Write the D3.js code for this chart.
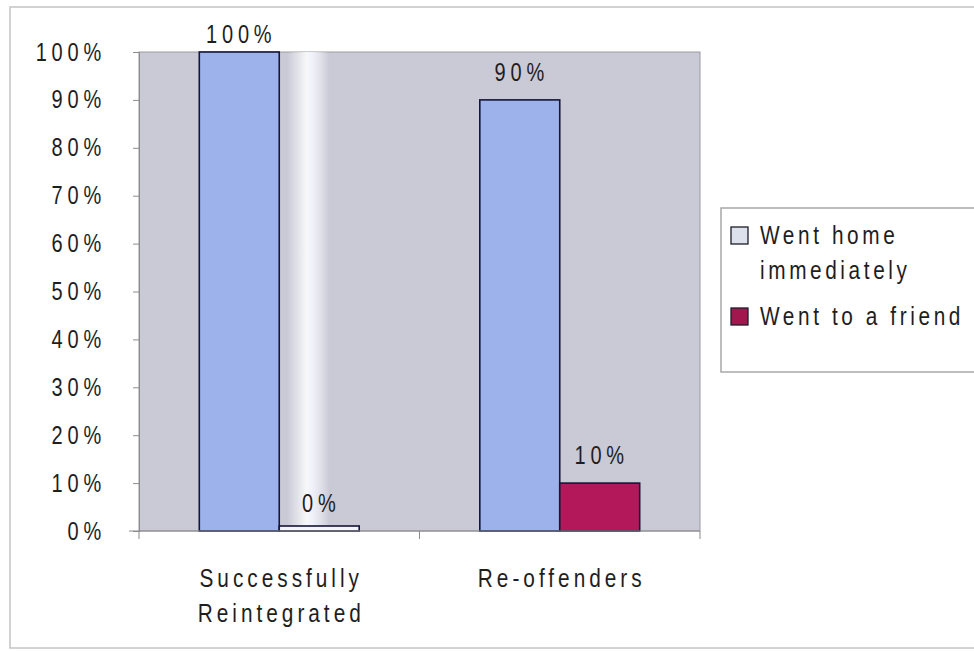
<!DOCTYPE html>
<html>
<head>
<meta charset="utf-8">
<script src="https://cdn.jsdelivr.net/npm/d3@7/dist/d3.min.js"></script>
<style>
  html, body { margin: 0; padding: 0; background: #ffffff; }
  svg { display: block; }
  text { font-family: "Liberation Sans", Arial, sans-serif; fill: #1e1e1e; }
  /* condensed lettering: glyphs squeezed horizontally around their anchor */
  .nar-mid { transform-box: fill-box; transform-origin: center; transform: scaleX(0.8); }
  .nar-end { transform-box: fill-box; transform-origin: right center; transform: scaleX(0.8); }
  .nar-start { transform-box: fill-box; transform-origin: left center; transform: scaleX(0.8); }
</style>
</head>
<body>
<svg id="chart" width="974" height="651"></svg>
<script>
// Where participants went on release, by outcome group
const categories = ["Successfully Reintegrated", "Re-offenders"];
const categoryLines = [["Successfully", "Reintegrated"], ["Re-offenders"]];
const seriesNames = ["Went home immediately", "Went to a friend"];
const legendLines = [["Went home", "immediately"], ["Went to a friend"]];
const wentHome = [100, 90];
const wentToFriend = [0, 10];
const yTicks = [0, 10, 20, 30, 40, 50, 60, 70, 80, 90, 100];

const seriesValues = [wentHome, wentToFriend];
const seriesColors = ["#9db2ea", "#b3185b"];
const legendSwatch = ["#dde1ec", "#a3174f"];

const svg = d3.select("#chart");
const plot = { left: 139, right: 700, top: 52, bottom: 531 };

// Chart area frame
svg.append("rect")
  .attr("x", 10).attr("y", 7)
  .attr("width", 1000).attr("height", 641)
  .attr("fill", "none").attr("stroke", "#c4c4c4").attr("stroke-width", 1.5);

const x0 = d3.scaleBand()
  .domain(categories)
  .range([plot.left, plot.right])
  .paddingInner(0.43)
  .paddingOuter(0.215);

const x1 = d3.scaleBand()
  .domain(seriesNames)
  .range([0, x0.bandwidth()]);

const y = d3.scaleLinear().domain([0, 100]).range([plot.bottom, plot.top]);

// Plot area
svg.append("rect")
  .attr("x", plot.left).attr("y", plot.top)
  .attr("width", plot.right - plot.left).attr("height", plot.bottom - plot.top)
  .attr("fill", "#c9cad6").attr("stroke", "#9a9aa4").attr("stroke-width", 1);

// Light streak across the first group
const defs = svg.append("defs");
const grad = defs.append("linearGradient").attr("id", "streak").attr("x1", "0").attr("x2", "1").attr("y1", "0").attr("y2", "0");
grad.append("stop").attr("offset", "0").attr("stop-color", "#ffffff").attr("stop-opacity", 0);
grad.append("stop").attr("offset", "0.45").attr("stop-color", "#ffffff").attr("stop-opacity", 0.85);
grad.append("stop").attr("offset", "0.6").attr("stop-color", "#f4f6ff").attr("stop-opacity", 0.9);
grad.append("stop").attr("offset", "1").attr("stop-color", "#ffffff").attr("stop-opacity", 0);
svg.append("rect")
  .attr("x", x0(categories[0]) + x1(seriesNames[1]) + 8)
  .attr("y", plot.top)
  .attr("width", 42)
  .attr("height", plot.bottom - plot.top)
  .attr("fill", "url(#streak)");

// Bars
const barData = [];
categories.forEach((c, i) => {
  seriesNames.forEach((s, j) => {
    barData.push({ cat: c, series: s, si: j, value: seriesValues[j][i] });
  });
});

const minVisible = 5;
svg.append("g").selectAll("rect")
  .data(barData)
  .join("rect")
  .attr("x", d => x0(d.cat) + x1(d.series))
  .attr("width", x1.bandwidth())
  .attr("y", d => Math.min(y(d.value), plot.bottom - minVisible))
  .attr("height", d => Math.max(plot.bottom - y(d.value), minVisible))
  .attr("fill", d => d.value === 0 ? "#f4f4fa" : seriesColors[d.si])
  .attr("stroke", "#15163a")
  .attr("stroke-width", 1.6);

// Value labels
svg.append("g").selectAll("text")
  .data(barData)
  .join("text")
  .attr("class", "nar-mid")
  .attr("x", d => x0(d.cat) + x1(d.series) + x1.bandwidth() / 2 + 2)
  .attr("y", d => Math.max(y(d.value) - 28, 34))
  .attr("dy", "0.35em")
  .attr("text-anchor", "middle")
  .attr("font-size", 25)
  .attr("letter-spacing", 6)
  .text(d => d.value + "%");

// Y axis
const yAxis = d3.axisLeft(y)
  .tickValues(yTicks)
  .tickFormat(d => d + "%")
  .tickSize(6)
  .tickPadding(27);
const yg = svg.append("g").attr("transform", `translate(${plot.left},0)`).call(yAxis);
yg.select(".domain").attr("stroke", "#8a8a8a");
yg.selectAll(".tick line").attr("stroke", "#8a8a8a");
yg.selectAll(".tick text")
  .attr("class", "nar-end")
  .attr("font-size", 25)
  .attr("letter-spacing", 6)
  .attr("fill", "#1e1e1e")
  .attr("font-family", "'Liberation Sans', Arial, sans-serif");

// X axis baseline with category dividers
svg.append("line")
  .attr("x1", plot.left - 10).attr("x2", plot.right)
  .attr("y1", plot.bottom).attr("y2", plot.bottom)
  .attr("stroke", "#8a8a8a").attr("stroke-width", 1.2);
const dividers = [plot.left, (x0(categories[0]) + x0.bandwidth() + x0(categories[1])) / 2, plot.right];
svg.append("g").selectAll("line")
  .data(dividers)
  .join("line")
  .attr("x1", d => d).attr("x2", d => d)
  .attr("y1", plot.bottom).attr("y2", plot.bottom + 8)
  .attr("stroke", "#8a8a8a");

// Category labels, one text per line
const catLineData = [];
categories.forEach((c, i) => categoryLines[i].forEach((t, k) => catLineData.push({ cat: c, k, t })));
svg.append("g").selectAll("text")
  .data(catLineData)
  .join("text")
  .attr("class", "nar-mid")
  .attr("x", d => x0(d.cat) + x0.bandwidth() / 2 + 2)
  .attr("y", d => 587 + d.k * 35)
  .attr("text-anchor", "middle")
  .attr("font-size", 26)
  .attr("letter-spacing", 5)
  .text(d => d.t);

// Legend
const legend = svg.append("g");
legend.append("rect")
  .attr("x", 721).attr("y", 208)
  .attr("width", 300).attr("height", 164)
  .attr("fill", "#ffffff").attr("stroke", "#a8a8a8").attr("stroke-width", 1.5);
const items = legend.selectAll("g.item")
  .data(seriesNames)
  .join("g")
  .attr("class", "item")
  .attr("transform", (d, i) => `translate(731, ${i === 0 ? 235 : 316})`);
items.append("rect")
  .attr("x", 0).attr("y", -8)
  .attr("width", 17).attr("height", 17)
  .attr("fill", (d, i) => legendSwatch[i])
  .attr("stroke", "#1c1c2a").attr("stroke-width", 1.3);
const legendLineData = [];
seriesNames.forEach((s, i) => legendLines[i].forEach((t, k) => legendLineData.push({ i, k, t })));
legend.selectAll("text")
  .data(legendLineData)
  .join("text")
  .attr("class", "nar-start")
  .attr("x", 760)
  .attr("y", d => (d.i === 0 ? 235 : 316) + d.k * 35)
  .attr("dy", "0.35em")
  .attr("font-size", 26)
  .attr("letter-spacing", 4.5)
  .text(d => d.t);
</script>
</body>
</html>
